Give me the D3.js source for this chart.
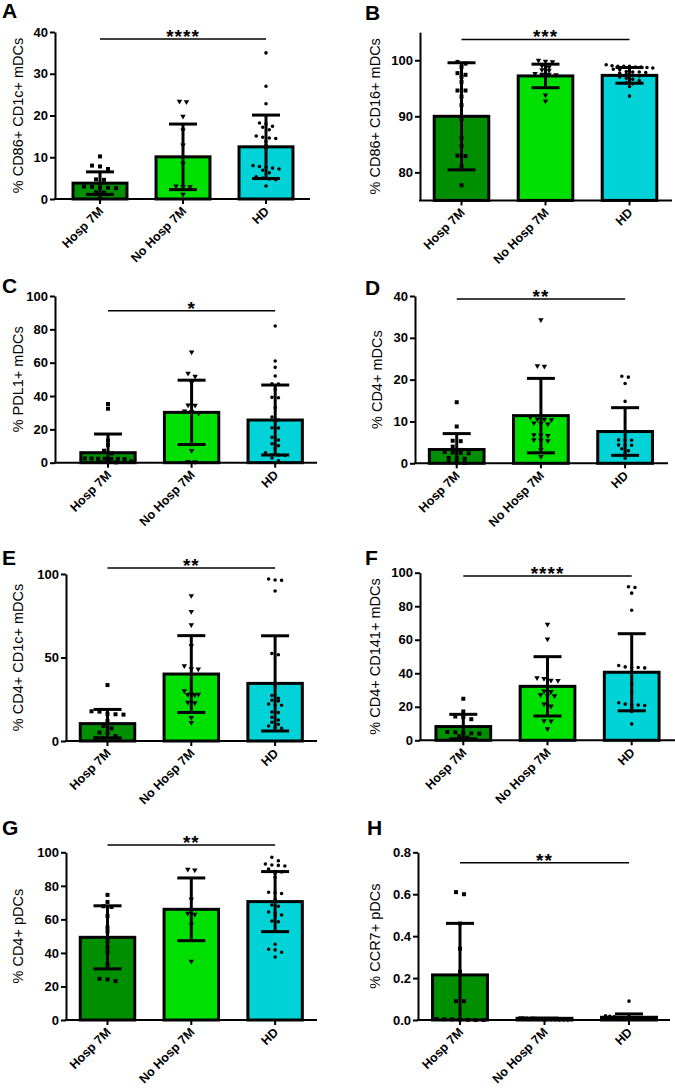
<!DOCTYPE html>
<html>
<head>
<meta charset="utf-8">
<script src="https://cdn.jsdelivr.net/npm/d3@7"></script>
<style>
  body { margin: 0; background: #fff; }
  svg { display: block; }
  text { font-family: "Liberation Sans", Arial, sans-serif; }
</style>
</head>
<body>
<svg id="chart" width="675" height="1088"></svg>
<script>
// groups shared by every panel
const groups = ["Hosp 7M", "No Hosp 7M", "HD"];

// A: % CD86+ CD1c+ mDCs
const meanA = [3.8, 10.1, 12.5];
const sdA = [2.7, 7.85, 7.6];
const dotsA = [
  [10.2, 8.0, 7.8, 7.2, 4.7, 4.6, 3.0, 2.9, 2.8, 2.7, 2.6, 1.6, 1.5, 0.2],
  [23.4, 23.3, 19.8, 16.5, 12.9, 8.5, 3.1, 3.0, 2.9, 1.1],
  [35, 27, 22.8, 18.2, 18.0, 17.4, 17.2, 16.6, 15.1, 14.8, 14.6, 14.5, 13.8, 12.9, 12.0,
   8.0, 7.8, 7.6, 7.4, 7.2, 6.9, 6.3, 5.3, 5.0, 4.8, 4.6, 3.1]
];

// B: % CD86+ CD16+ mDCs
const meanB = [90.0, 97.2, 97.3];
const sdB = [9.55, 2.1, 1.4];
const dotsB = [
  [99.7, 99.4, 98.8, 97.7, 97.4, 97.0, 96.1, 94.6, 94.6, 93.5, 92.0, 89.5, 86.1, 84.7, 82.9, 83.0, 81.1, 77.7],
  [100, 99.8, 99.7, 99.0, 98.8, 98.3, 98.2, 97.6, 97.5, 97.5, 97.4, 93.8, 92.7],
  [99.2, 99.0, 98.9, 98.9, 98.9, 98.8, 98.8, 98.7, 98.6, 98.4, 98.3, 98.0, 97.9, 97.9, 97.8,
   97.7, 97.5, 97.3, 97.2, 97.0, 96.8, 96.6, 96.4, 96.0, 95.8, 95.3, 93.6]
];

// C: % PDL1+ mDCs
const meanC = [6.0, 30.2, 25.6];
const sdC = [11.2, 19.3, 21.0];
const dotsC = [
  [35.2, 32.4, 13.4, 10.6, 7.2, 5.6, 2.6, 2.5, 2.4, 2.4, 2.3, 2.3, 2.2, 0.8, 0.4, 0.3, 0.2],
  [66.4, 53.6, 51.8, 48, 34.6, 34.4, 31.0, 30.6, 29.6, 7.3, 0.7, 0.5],
  [82, 61, 57.2, 52, 47.4, 47.2, 44, 39.2, 39.0, 33, 27.4, 25.6, 25.2, 21, 20.8, 15.2, 13.6,
   11.4, 10.2, 8.6, 6.0, 4.8, 4.6, 4.4, 2.8, 1.2]
];

// D: % CD4+ mDCs
const meanD = [3.3, 11.4, 7.6];
const sdD = [3.8, 8.9, 5.7];
const dotsD = [
  [14.6, 8.8, 5.4, 5.3, 4.0, 3.2, 2.7, 2.6, 2.5, 2.4, 1.3, 1.2, 1.1, 0.3, 0.2, 0.1],
  [34.3, 23.3, 23.2, 11.0, 10.6, 10.5, 10.4, 9.6, 9.5, 9.4, 6.8, 6.7, 6.6, 5.6, 5.5, 5.4, 3.3, 1.6],
  [20.8, 20.6, 19.1, 14.8, 7.6, 5.6, 5.5, 5.5, 4.4, 4.3, 4.3, 3.5, 3.0, 2.4, 1.2]
];

// E: % CD4+ CD1c+ mDCs
const meanE = [10.4, 40.1, 34.5];
const sdE = [8.5, 23.0, 28.5];
const dotsE = [
  [33.5, 17.8, 17.6, 16.2, 16.0, 15.8, 12.0, 9.0, 7.6, 5.0, 4.8, 3.0, 1.6, 1.4, 1.2, 1.0],
  [87, 77.5, 69.5, 57, 45, 43.2, 43.0, 30.0, 28.2, 28.0, 27.8, 27.6, 23.2, 22.8, 14.0, 11.0],
  [97.0, 96.4, 96.2, 89.8, 52.4, 51.6, 33, 27.2, 25.6, 24.4, 24.0, 22.2, 21.8, 21.4, 17.4,
   17.0, 14.2, 12.6, 11.2, 10.0, 9.0, 8.2, 7.6]
];

// F: % CD4+ CD141+ mDCs
const meanF = [8.2, 32.2, 40.6];
const sdF = [7.3, 17.7, 23.0];
const dotsF = [
  [24.8, 17.2, 14.2, 13.8, 12.6, 5.0, 4.8, 4.6, 4.2, 4.0, 2.4, 1.6],
  [69.2, 60.4, 37.2, 36.8, 35.8, 35.6, 29.4, 29.0, 27.2, 26.8, 26.6, 21.6, 20.4, 11.6, 11.4, 6.8],
  [91.6, 91.2, 87.8, 77.6, 44.6, 43.8, 43.6, 43.4, 43.2, 33.4, 29.2, 22.4, 21.6, 21.2, 21.0,
   20.8, 19.6, 17.2, 9.8]
];

// G: % CD4+ pDCs
const meanG = [49.3, 66.0, 70.6];
const sdG = [18.8, 18.7, 17.9];
const dotsG = [
  [74.6, 70.4, 67.8, 67.4, 62, 55.2, 52.8, 47, 43.4, 40.4, 33, 24.6, 24.2, 23.2],
  [89.8, 89.4, 72, 63.6, 63.0, 57, 35],
  [97, 95, 93, 92.4, 92.2, 91.8, 90, 88.6, 88.2, 87.8, 85, 76.2, 75.8, 75.4, 72, 68.6, 67.8,
   64.4, 63.8, 62.6, 62.2, 59.0, 58.6, 45.2, 42.2, 41.8, 40.4, 37.6]
];

// H: % CCR7+ pDCs
const meanH = [0.215, 0.008, 0.013];
const sdH = [0.246, 0.001, 0.016];
const dotsH = [
  [0.61, 0.60, 0.46, 0.34, 0.23, 0.09, 0.09, 0.005, 0.004, 0.003, 0.002, 0.001, 0.0, 0.0],
  [0.01, 0.009, 0.008, 0.008, 0.007, 0.006, 0.006, 0.005, 0.005, 0.004, 0.004, 0.003],
  [0.09, 0.02, 0.018, 0.015, 0.012, 0.01, 0.01, 0.008, 0.008, 0.006, 0.005, 0.005, 0.004,
   0.003, 0.002, 0.002]
];

const letters = ["A", "B", "C", "D", "E", "F", "G", "H"];
const yTitles = ["% CD86+ CD1c+ mDCs", "% CD86+ CD16+ mDCs", "% PDL1+ mDCs", "% CD4+ mDCs",
                 "% CD4+ CD1c+ mDCs", "% CD4+ CD141+ mDCs", "% CD4+ pDCs", "% CCR7+ pDCs"];
const stars = ["****", "***", "*", "**", "**", "****", "**", "**"];
const yTicks = [[0, 10, 20, 30, 40], [80, 90, 100], [0, 20, 40, 60, 80, 100], [0, 10, 20, 30, 40],
                [0, 50, 100], [0, 20, 40, 60, 80, 100], [0, 20, 40, 60, 80, 100], [0, 0.2, 0.4, 0.6, 0.8]];
const yDomains = [[0, 40], [75, 105], [0, 100], [0, 40], [0, 100], [0, 100], [0, 100], [0, 0.8]];
// height of the comparison bracket, in data units
const sigLevel = [38.3, 103.7, 91.2, 39.3, 103.6, 98, 104.3, 0.75];

const means = [meanA, meanB, meanC, meanD, meanE, meanF, meanG, meanH];
const sds = [sdA, sdB, sdC, sdD, sdE, sdF, sdG, sdH];
const dots = [dotsA, dotsB, dotsC, dotsD, dotsE, dotsF, dotsG, dotsH];

// layout of each small graph on the page (pixels)
const layout = [
  {ax: 55,  ax2: 310, c0: 100,   step: 83,   yTop: 32,    yBot: 199,   lx: 2,   ly: 18,  tx: 18},
  {ax: 420, ax2: 672, c0: 461.5, step: 84,   yTop: 32.2,  yBot: 200.4, lx: 365, ly: 20,  tx: 375},
  {ax: 55,  ax2: 317, c0: 108,   step: 83.6, yTop: 296,   yBot: 462.7, lx: 2,   ly: 293, tx: 18},
  {ax: 415, ax2: 668, c0: 456.7, step: 84.2, yTop: 296,   yBot: 463.3, lx: 365, ly: 295, tx: 377},
  {ax: 66,  ax2: 317, c0: 107.5, step: 83.8, yTop: 574,   yBot: 741,   lx: 2,   ly: 565, tx: 18},
  {ax: 420, ax2: 675, c0: 463.3, step: 84.2, yTop: 572.7, yBot: 740.3, lx: 365, ly: 565, tx: 375},
  {ax: 66,  ax2: 317, c0: 107.5, step: 83.8, yTop: 852.3, yBot: 1020,  lx: 2,   ly: 835, tx: 18},
  {ax: 418, ax2: 670, c0: 460,   step: 84.5, yTop: 852.3, yBot: 1020,  lx: 367, ly: 835, tx: 375}
];

const colors = ["#008f00", "#00e000", "#00d3d8"];
const symbols = [d3.symbolSquare, d3.symbolTriangle, d3.symbolCircle];
const symSize = [16, 13, 10];
const symGap = [8, 7, 6.5];

const svg = d3.select("#chart");

// spread dots that sit at about the same height into a centred row
function swarm(vals, y, cx, gap, maxW) {
  let s = vals.map(v => ({v: v, py: y(v)})).sort((a, b) => a.py - b.py);
  let rows = [], cur = null;
  s.forEach(d => {
    if (!cur || d.py - cur[0].py > 3.5) { cur = [d]; rows.push(cur); }
    else cur.push(d);
  });
  rows.forEach(r => {
    let g = r.length > 1 ? Math.min(gap, maxW / (r.length - 1)) : 0;
    r.forEach((d, i) => d.px = cx + (i - (r.length - 1) / 2) * g);
  });
  return s;
}

function drawPanel(i) {
  let L = layout[i];
  let dom = yDomains[i];
  let g = svg.append("g");

  let y = d3.scaleLinear().domain(dom).range([L.yBot, L.yTop]);
  let x = d3.scaleBand().domain(groups)
    .range([L.c0 - L.step / 2, L.c0 + 2.5 * L.step])
    .paddingInner(0.35).paddingOuter(0.175);
  let cx = k => x(groups[k]) + x.bandwidth() / 2;

  // bars
  g.selectAll("rect.bar").data(means[i]).join("rect")
    .attr("class", "bar")
    .attr("x", (d, k) => x(groups[k]))
    .attr("width", x.bandwidth())
    .attr("y", d => y(d))
    .attr("height", d => y(dom[0]) - y(d))
    .attr("fill", (d, k) => colors[k])
    .attr("stroke", "#000")
    .attr("stroke-width", 3);

  // individual values
  dots[i].forEach((vals, k) => {
    let pts = swarm(vals, y, cx(k), symGap[k], x.bandwidth() - 8);
    let sym = d3.symbol().type(symbols[k]).size(symSize[k]);
    g.selectAll("path.dot" + k).data(pts).join("path")
      .attr("class", "dot" + k)
      .attr("d", sym)
      .attr("transform", d => "translate(" + d.px + "," + d.py + ")" + (k == 1 ? " rotate(180)" : ""))
      .attr("fill", "#000");
  });

  // mean +/- SD
  means[i].forEach((m, k) => {
    let hi = m + sds[i][k], lo = m - sds[i][k];
    let c = cx(k), w = 14;
    let eb = g.append("g").attr("stroke", "#000").attr("stroke-width", 3);
    eb.append("line").attr("x1", c).attr("x2", c)
      .attr("y1", y(Math.max(lo, dom[0]))).attr("y2", y(hi));
    eb.append("line").attr("x1", c - w).attr("x2", c + w).attr("y1", y(hi)).attr("y2", y(hi));
    if (lo > dom[0])
      eb.append("line").attr("x1", c - w).attr("x2", c + w).attr("y1", y(lo)).attr("y2", y(lo));
  });

  // y axis
  let fmt = dom[1] < 1 ? d3.format(".1f") : d3.format("d");
  let yAxis = g.append("g")
    .attr("transform", "translate(" + L.ax + ",0)")
    .call(d3.axisLeft(y).tickValues(yTicks[i]).tickSize(5).tickSizeOuter(0).tickPadding(2).tickFormat(fmt));
  yAxis.select(".domain").attr("stroke-width", 2);
  yAxis.selectAll(".tick line").attr("stroke-width", 2);
  yAxis.selectAll(".tick text").attr("font-size", 13).attr("font-weight", "bold")
    .attr("font-family", "Liberation Sans, Arial, sans-serif").attr("fill", "#000");

  // x axis
  g.append("line").attr("x1", L.ax - 1).attr("x2", L.ax2)
    .attr("y1", L.yBot).attr("y2", L.yBot)
    .attr("stroke", "#000").attr("stroke-width", 2);
  groups.forEach((name, k) => {
    g.append("line").attr("x1", cx(k)).attr("x2", cx(k))
      .attr("y1", L.yBot).attr("y2", L.yBot + 5)
      .attr("stroke", "#000").attr("stroke-width", 2);
    g.append("text")
      .attr("transform", "translate(" + (cx(k) + 4) + "," + (L.yBot + 13) + ") rotate(-45)")
      .attr("text-anchor", "end")
      .attr("font-size", 12.5).attr("font-weight", "bold")
      .text(name);
  });

  // y title
  g.append("text")
    .attr("transform", "translate(" + L.tx + "," + ((L.yTop + L.yBot) / 2) + ") rotate(-90)")
    .attr("text-anchor", "middle").attr("dy", "0.35em")
    .attr("font-size", 14.5)
    .text(yTitles[i]);

  // panel letter
  g.append("text").attr("x", L.lx).attr("y", L.ly)
    .attr("font-size", 21).attr("font-weight", "bold")
    .text(letters[i]);

  // significance bracket
  let sy = y(sigLevel[i]);
  g.append("line").attr("x1", cx(0)).attr("x2", cx(2)).attr("y1", sy).attr("y2", sy)
    .attr("stroke", "#000").attr("stroke-width", 1.5);
  g.append("text").attr("x", cx(1)).attr("y", sy + 4)
    .attr("text-anchor", "middle")
    .attr("font-size", 19).attr("font-weight", "bold").attr("letter-spacing", 1)
    .text(stars[i]);
}

for (let i = 0; i < 8; i++) drawPanel(i);
</script>
</body>
</html>
